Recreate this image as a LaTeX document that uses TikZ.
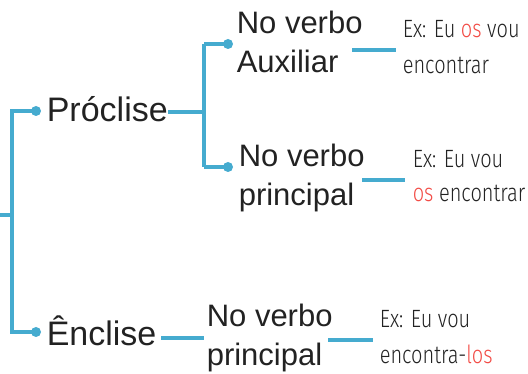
\documentclass[tikz,border=0pt]{standalone}
\usepackage{xcolor}
\usepackage{fontspec}
\setmainfont{Liberation Sans}
\newfontfamily\handfont[FakeStretch=0.8]{Fira Sans Light}
\definecolor{linkblue}{HTML}{45ABCF}
\definecolor{exred}{HTML}{F24B45}
\definecolor{inkgray}{HTML}{222222}

\begin{document}
\begin{tikzpicture}[
    x=1pt, y=-1pt,
    line width=3.6pt,
    text=inkgray,
    dot/.style={circle, fill=linkblue, inner sep=0pt, minimum size=10pt},
    link/.style={draw=linkblue},
    term/.style={anchor=base west, inner sep=0pt, font=\fontsize{34}{40}\selectfont},
    sub/.style={anchor=base west, inner sep=0pt, align=left, font=\fontsize{31}{39.5}\selectfont},
    ex/.style={anchor=base west, inner sep=0pt, align=left, font=\handfont\fontsize{25}{36}\selectfont}
]
    \useasboundingbox (0,0) rectangle (528,374);

    % Junction coordinates
    \coordinate (root) at (0, 215);
    \coordinate (j1) at (12, 111);
    \coordinate (j2) at (12, 332);
    \coordinate (k0) at (204, 112);
    \coordinate (k1) at (204, 44);
    \coordinate (k2) at (204, 167);

    % Dots
    \node[dot] (d1) at (36, 111) {};
    \node[dot] (d2) at (36, 332) {};
    \node[dot] (d3) at (228, 44) {};
    \node[dot] (d4) at (228, 167) {};

    % Terms
    \node[term] (pro) at (45, 122) {Próclise};
    \node[term] (enc) at (45, 346) {Ênclise};

    % Positions of the verb (anchored on the last line)
    \node[sub] (aux) at (235, 73) {No verbo\\Auxiliar};
    \node[sub] (pri) at (237, 206) {No verbo\\principal};
    \node[sub] (pri2) at (205, 366) {No verbo\\principal};

    % Examples
    \node[ex] (ex1) at (401, 74) {Ex: Eu \textcolor{exred}{os} vou\\encontrar};
    \node[ex] (ex2) at (411, 202) {Ex: Eu vou\\[-2pt]\textcolor{exred}{os} encontrar};
    \node[ex] (ex3) at (378, 363) {Ex: Eu vou\\encontra-\textcolor{exred}{los}};

    % Dash ends
    \coordinate (a1) at (168, 112);
    \coordinate (a2) at (161, 338);
    \coordinate (b2) at (204, 338);
    \coordinate (c1) at (352, 50);
    \coordinate (e1) at (396, 50);
    \coordinate (c2) at (362, 180);
    \coordinate (e2) at (405, 180);
    \coordinate (c3) at (328, 340);
    \coordinate (e3) at (373, 340);

    % Tree branches
    \draw[link] (root) -| (j1) -- (d1.center);
    \draw[link] (j1) -- (j2) -- (d2.center);
    \draw[link] (a1) -- (k0);
    \draw[link] (k1) -- (k2);
    \draw[link] (k1) -- (d3.center);
    \draw[link] (k2) -- (d4.center);
    \draw[link] (a2) -- (b2);

    % Dashes to the examples
    \draw[link] (c1) -- (e1);
    \draw[link] (c2) -- (e2);
    \draw[link] (c3) -- (e3);

\end{tikzpicture}
\end{document}
